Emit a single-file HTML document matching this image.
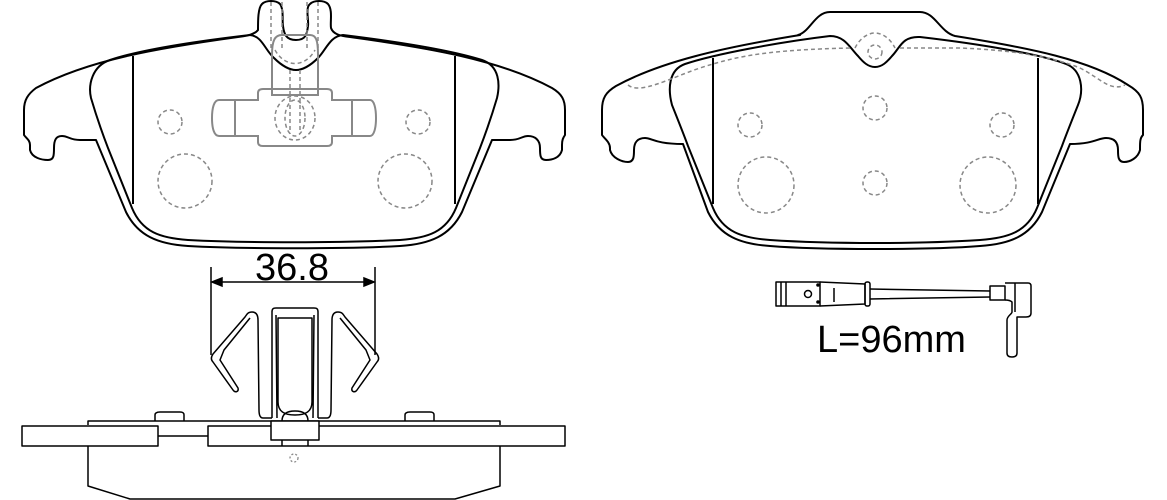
<!DOCTYPE html>
<html><head><meta charset="utf-8"><style>html,body{margin:0;padding:0;background:#fff}svg{display:block}</style></head>
<body>
<svg width="1167" height="500" viewBox="0 0 1167 500" xmlns="http://www.w3.org/2000/svg" font-family="Liberation Sans, sans-serif">
<g fill="none" stroke="#000" stroke-width="2" stroke-linejoin="round">
<path d="M258,30 C258,20 258,8 262,4 C266,0 276,0 280,4 C284,10 282,20 283,26 C284,34 286,40 296,40 C306,40 307,34 308,26 C309,20 305,8 310,4 C314,0 324,0 328,4 C333,10 330,22 331,28 C333,34 340,36 350,37 C430,48 500,60 552,88 C562,94 565,100 565,110 L565,135 C563,138 562,140 562,145 L562,150 C560,158 552,160 546,160 C540,160 540,155 540,148 C540,140 535,136 528,136 C522,136 520,140 510,140 L492,140 L462,212 C450,236 430,244 400,246 C350,249 240,249 188,246 C158,244 138,236 126,212 L96,140 L80,140 C70,140 68,136 62,136 C56,136 54,140 54,148 C54,155 54,160 48,160 C42,160 32,158 30,150 L30,145 C30,140 26,138 24,135 L24,110 C24,100 28,94 36,88 C88,60 158,48 238,37 C248,36 255,34 258,30 Z"/>
<path d="M250,35 C262,36 265,50 274,58 C282,66 290,70 296,70 C302,70 310,66 318,58 C326,50 330,36 343,35 C400,42 450,50 482,60 C500,66 500,85 497,98 C492,115 485,135 480,148 L456,208 C446,232 428,238 400,240 C340,243 245,243 188,240 C160,238 142,232 132,208 L108,148 C103,135 96,115 91,98 C88,85 92,66 110,60 C140,50 190,42 250,35 Z"/>
<line x1="133" y1="56" x2="133" y2="204"/>
<line x1="455" y1="56" x2="455" y2="204"/>
</g>
<g fill="none" stroke="#888" stroke-width="1.5" stroke-dasharray="4,3">
<circle cx="170" cy="122" r="12"/><circle cx="418" cy="122" r="12"/>
<circle cx="185" cy="181" r="27"/><circle cx="405" cy="181" r="27"/>
<ellipse cx="295" cy="118" rx="20" ry="22"/><ellipse cx="295" cy="118" rx="10" ry="18"/>
<line x1="271" y1="2" x2="271" y2="48"/><line x1="282" y1="2" x2="282" y2="48"/>
<line x1="307" y1="2" x2="307" y2="48"/><line x1="318" y1="2" x2="318" y2="48"/>
<line x1="290" y1="70" x2="290" y2="134"/><line x1="300" y1="70" x2="300" y2="134"/>
<path d="M275,50 C285,68 305,68 315,50"/>
</g>
<g fill="none" stroke="#888" stroke-width="2">
<path d="M272,95 L272,55 C272,40 275,35 282,35 L310,35 C316,35 318,40 318,55 L318,95 Z"/>
<path d="M258,100 L258,93 C258,90 260,89 263,89 L327,89 C330,89 332,90 332,93 L332,100 L370,100 C374,100 376,108 376,118 C376,128 374,136 370,136 L332,136 L332,142 C332,145 330,146 327,146 L263,146 C260,146 258,145 258,142 L258,136 L219,136 C214,136 212,128 212,118 C212,108 214,100 219,100 Z"/>
<line x1="235" y1="100" x2="235" y2="136"/><line x1="352" y1="100" x2="352" y2="136"/>
</g>
<g fill="none" stroke="#000" stroke-width="2" stroke-linejoin="round">
<path d="M798,35 C810,32 815,12 830,12 L920,12 C935,12 940,32 955,36 C1030,48 1090,60 1128,85 C1140,92 1143,98 1143,110 L1143,135 C1140,138 1140,142 1140,148 L1140,150 C1138,158 1130,162 1124,162 C1118,162 1118,156 1118,150 C1118,142 1114,138 1106,138 C1098,138 1094,144 1070,144 L1042,212 C1030,236 1010,244 980,246 C930,250 820,250 770,246 C740,244 720,236 708,212 L683,144 C655,144 652,138 645,138 C638,138 634,142 634,150 C634,156 634,162 628,162 C622,162 612,158 610,150 L610,148 C610,142 604,138 602,135 L602,110 C602,98 606,92 616,86 C660,62 720,48 800,35 Z"/>
<path d="M830,36 C845,36 850,48 858,56 C863,62 868,67 875,67 C882,67 887,62 892,56 C900,48 902,36 920,37 C980,44 1040,54 1066,64 C1082,70 1084,90 1078,105 C1072,120 1066,135 1062,146 L1037,208 C1027,232 1008,238 980,240 C920,244 830,244 770,240 C742,238 723,232 713,208 L688,146 C684,135 678,120 672,105 C668,90 668,70 685,64 C715,54 780,42 830,36 Z"/>
<line x1="713" y1="58" x2="713" y2="204"/>
<line x1="1038" y1="58" x2="1038" y2="204"/>
</g>
<g fill="none" stroke="#888" stroke-width="1.5" stroke-dasharray="4,3">
<circle cx="875" cy="108" r="12"/><circle cx="750" cy="125" r="12"/><circle cx="1002" cy="125" r="12"/>
<circle cx="766" cy="185" r="28"/><circle cx="988" cy="185" r="28"/><circle cx="875" cy="183" r="12"/>
<circle cx="875" cy="52" r="7"/>
<path d="M855,48 C860,38 868,33 875,33 C882,33 890,38 895,48"/>
<path d="M628,85 C640,95 670,78 700,68 C740,55 770,50 850,48 M900,48 L960,48 C1010,50 1050,56 1080,68 C1100,78 1110,92 1125,85"/>
</g>
<g stroke="#000" stroke-width="1.5" fill="#000">
<line x1="211" y1="267" x2="211" y2="355"/><line x1="375" y1="267" x2="375" y2="355"/>
<line x1="214" y1="282" x2="372" y2="282"/>
<path d="M212,282 L222,278 L222,286 Z"/><path d="M374,282 L364,278 L364,286 Z"/>
</g>
<text x="292" y="280" font-size="38" text-anchor="middle" fill="#000">36.8</text>
<g fill="none" stroke="#000" stroke-width="1.5" stroke-linejoin="round">
<path d="M272,418 L272,312 C272,309 273,308 276,308 L314,308 C317,308 318,309 318,312 L318,418"/>
<path d="M277,418 L276,315 M313,418 L314,315"/>
<path d="M278,402 L278,318 L312,318 L312,402 C312,412 305,415 295,415 C285,415 278,412 278,402"/>
<path d="M272,418 L263,418 C260,418 259,415 259,410 L258,320 C258,315 256,312 252,312 C248,312 247,314 245,317 L213,354 C211,357 211,360 213,362 L233,390 C235,393 239,392 238,388 L220,360 L224,350 L250,318"/>
<path d="M318,418 L327,418 C330,418 331,415 331,410 L332,320 C332,315 334,312 338,312 C342,312 343,314 345,317 L377,354 C379,357 379,360 377,362 L357,390 C355,393 351,392 352,388 L370,360 L366,350 L340,318"/>
<path d="M88,425 L88,421 L500,421 L500,425"/>
<path d="M155,421 L155,415 C155,413 157,412 160,412 L180,412 C183,412 184,413 184,415 L184,421"/>
<path d="M405,421 L405,415 C405,413 407,412 410,412 L430,412 C433,412 434,413 434,415 L434,421"/>
<path d="M282,421 C282,414 287,411 295,411 C303,411 308,414 308,421"/>
<rect x="22" y="426" width="136" height="20"/>
<rect x="208" y="426" width="357" height="20"/>
<path d="M158,436 L208,436"/>
<rect x="271" y="421" width="48" height="19" fill="#fff"/>
<path d="M282,440 L282,446 M308,440 L308,446"/>
<path d="M88,446 L88,486 L130,499 L455,499 L500,486 L500,446"/>
</g>
<circle cx="294" cy="458" r="4" fill="none" stroke="#888" stroke-width="1.3" stroke-dasharray="2,2"/>
<g fill="none" stroke="#000" stroke-width="1.5" stroke-linejoin="round">
<rect x="776" y="282" width="44" height="24"/>
<line x1="781" y1="282" x2="781" y2="306"/><line x1="786" y1="282" x2="786" y2="306"/>
<path d="M820,282 L865,284 L865,304 L820,306"/>
<rect x="865" y="282" width="5" height="24" rx="2"/>
<path d="M870,289 L990,291 M870,299 L990,297"/>
<path d="M990,286 L1005,286 L1005,300 L990,300 Z"/>
<path d="M1005,283 L1028,283 C1030,283 1031,284 1031,286 L1031,313 C1031,316 1029,317 1026,317 L1017,317 L1017,353 C1017,356 1015,357 1012,357 C1009,357 1007,356 1007,353 L1007,320 C1007,316 1012,314 1012,312 L1012,302 C1010,300 1006,300 1005,300"/>
<line x1="1015" y1="283" x2="1015" y2="312"/>
<circle cx="808" cy="294" r="3.5"/>
<line x1="834" y1="288" x2="834" y2="302"/>
</g>
<circle cx="818" cy="285" r="1.8" fill="#000"/><circle cx="818" cy="302" r="1.8" fill="#000"/>
<text x="817" y="352" font-size="38" fill="#000">L=96mm</text>
</svg>
</body></html>
